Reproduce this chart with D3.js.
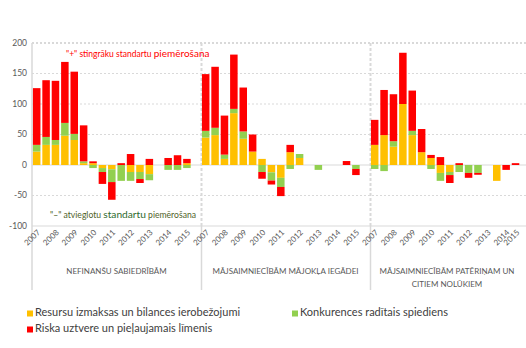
<!DOCTYPE html>
<html><head><meta charset="utf-8">
<script src="https://cdn.jsdelivr.net/npm/d3@7"></script>
<style>
html,body{margin:0;padding:0;background:#fff;overflow:hidden;}
svg{display:block;font-family:Lato,"Open Sans",sans-serif;}
</style></head><body>
<svg id="c" width="526" height="348"></svg>
<script>
// ---- data ----
const years = ["2007","2008","2009","2010","2011","2012","2013","2014","2015"];
const halves = ["H1","H2"];
const panels = ["NEFINANŠU SABIEDRĪBĀM","MĀJSAIMNIECĪBĀM MĀJOKĻA IEGĀDEI","MĀJSAIMNIECĪBĀM PATĒRIŅAM UN|CITIEM NOLŪKIEM"];
const seriesNames = ["Resursu izmaksas un bilances ierobežojumi","Konkurences radītais spiediens","Riska uztvere un pieļaujamais līmenis"];
const seriesColors = ["#FFC000","#92D050","#FF0000"];
const yTicks = [200,150,100,50,0,-50,-100];
// per panel values, 18 half-years (2007H1 ... 2015H2)
const resursu = [
  [22,33,33,48,41,3,3,-5,-7,0,-11.5,-11.5,-15,0,0,0,3,null],
  [45,49,10,85,43,22,10,-12,-21,21,11.5,0,0,0,0,0,0,null],
  [33,49,30,100,49,21,11.5,-13,-11.5,0,0,0,0,-26,0,0,null,null]
];
const konkurence = [
  [11,13,8,21,10,3,-5,-6.5,-21,-26,-14.5,-11.5,-10,0,-8,-8,-5,null],
  [11,12,7,7,12,0,-11.5,-13.5,-15,-6.5,6.5,0,-8,0,0,0,-6.5,null],
  [-6.5,-10,9,0,7,0,-6.5,-13,-5,-11.5,-13,-13,0,0,0,0,null,null]
];
const riska = [
  [93,93,97,100,102,59,3,-19.5,-29,3,18,-6.5,10,0,11.5,16,7,null],
  [93,100,64,89,72,28,-11,-6.5,-15,12,0,0,0,0,0,6.5,-10,null],
  [41,74,77,84,66,38,5,13,-13,3,-8,-3,0,0,-8,3,null,null]
];

// ---- build table ----
const rows = [];
panels.forEach((p,pi)=>{
  years.forEach((y,yi)=>halves.forEach((h,hi)=>{
    const i = yi*2+hi;
    rows.push({key:pi+"-"+i, panel:pi, idx:i, year:y, half:h,
      s0:resursu[pi][i]||0, s1:konkurence[pi][i]||0, s2:riska[pi][i]||0});
  }));
});

const svg = d3.select("#c");
const L = 32, R = 539, T = 43, B = 226;
const x = d3.scaleBand().domain(rows.map(d=>d.key)).range([L,R]).paddingInner(0.2).paddingOuter(0.1);
const y = d3.scaleLinear().domain([-100,200]).range([B,T]);
const grid = "#d9d9d9", txt = "#595959";

// gridlines
svg.append("g").selectAll("line").data(yTicks).join("line")
  .attr("x1",L).attr("x2",526).attr("y1",d=>y(d)).attr("y2",d=>y(d))
  .attr("stroke",grid)
  .attr("stroke-width",d=>d===200?2:1.2)
  .attr("stroke-dasharray",d=>(d===0||d===-100)?null:"2,2");

// y tick labels
svg.append("g").selectAll("text").data(yTicks).join("text")
  .attr("x",27).attr("y",d=>y(d)).attr("dy","0.35em").attr("text-anchor","end")
  .attr("font-size",8.5).attr("fill",txt).text(d=>d);

// panel boundaries
const step = x.step();
const bounds = [0,1,2,3].map(i=>L + i*18*step);
svg.append("g").selectAll("line").data(bounds.slice(1,3)).join("line")
  .attr("x1",d=>d+0.5).attr("x2",d=>d+0.5).attr("y1",T).attr("y2",B)
  .attr("stroke",grid).attr("stroke-width",2).attr("stroke-dasharray","3,2");
svg.append("g").selectAll("line").data(bounds).join("line")
  .attr("x1",(d,i)=>i===0?d:d+0.5).attr("x2",(d,i)=>i===0?d:d+0.5)
  .attr("y1",(d,i)=>i===0?T:B).attr("y2",290)
  .attr("stroke",grid).attr("stroke-width",1.5);

// stacked bars
const stack = d3.stack().keys(["s0","s1","s2"]).offset(d3.stackOffsetDiverging);
const stacked = stack(rows);
svg.append("g").selectAll("g").data(stacked).join("g")
  .attr("fill",(d,i)=>seriesColors[i])
  .selectAll("rect").data(d=>d).join("rect")
  .attr("x",d=>x(d.data.key)).attr("width",x.bandwidth())
  .attr("y",d=>y(Math.max(d[0],d[1])))
  .attr("height",d=>Math.abs(y(d[0])-y(d[1])));

// year labels
const yl = rows.filter(d=>d.half==="H1");
svg.append("g").selectAll("text").data(yl).join("text")
  .attr("transform",d=>{
    let cx = x(d.key)+x.bandwidth()/2+2;
    cx = Math.min(cx, 518);
    return `translate(${cx},${B+5}) rotate(-45)`;
  })
  .attr("text-anchor","end").attr("dy","0.35em")
  .attr("font-size",8).attr("fill",txt).text(d=>d.year);

// panel names
panels.forEach((p,pi)=>{
  const lines = p.split("|");
  const cx = pi===2 ? 447 : (bounds[pi]+bounds[pi+1])/2;
  lines.forEach((ln,li)=>{
    svg.append("text").attr("x",cx).attr("y",274+li*12.5).attr("text-anchor","middle")
      .attr("font-size",8).attr("fill",txt).text(ln);
  });
});

// annotations
const a1 = svg.append("text").attr("x",66).attr("y",57).attr("fill","#FF0000").attr("font-size",8.5);
a1.append("tspan").text("\"+\" stingrāku standartu ");
a1.append("tspan").attr("font-size",10).text("piemērošana");
const a2 = svg.append("text").attr("x",50).attr("y",218).attr("fill","#4F6228").attr("font-size",8.6);
a2.append("tspan").text("\"–\" atvieglotu ");
a2.append("tspan").attr("font-size",10.2).attr("fill","#2E6B2E").text("standartu");
a2.append("tspan").text(" piemērošana");

// legend
const leg = [{i:0,x:27,y:316},{i:1,x:292,y:316},{i:2,x:27,y:332}];
leg.forEach(l=>{
  svg.append("rect").attr("x",l.x).attr("y",l.y-5.5).attr("width",6).attr("height",6).attr("fill",seriesColors[l.i]);
  svg.append("text").attr("x",l.x+8).attr("y",l.y).attr("font-size",11).attr("fill","#404040").text(seriesNames[l.i]);
});
</script>
</body></html>
